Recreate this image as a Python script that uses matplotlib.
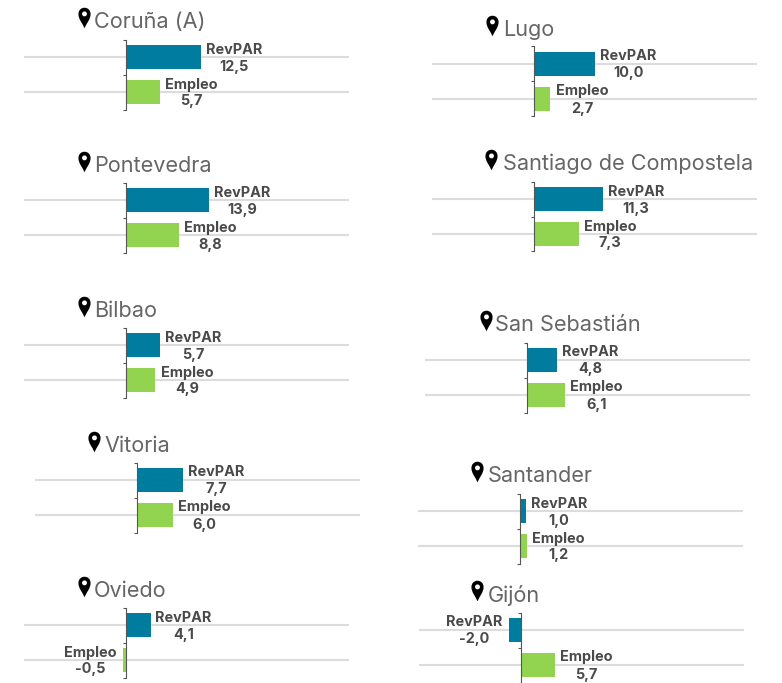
import matplotlib
matplotlib.use('Agg')
import matplotlib.pyplot as plt
from matplotlib.path import Path

# data
cities = ['Coruña (A)', 'Pontevedra', 'Bilbao', 'Vitoria', 'Oviedo',
          'Lugo', 'Santiago de Compostela', 'San Sebastián', 'Santander', 'Gijón']
revpar = [12.5, 13.9, 5.7, 7.7, 4.1, 10.0, 11.3, 4.8, 1.0, -2.0]
empleo = [5.7, 8.8, 4.9, 6.0, -0.5, 2.7, 7.3, 6.1, 1.2, 5.7]
series_names = ['RevPAR', 'Empleo']

# layout in pixels of the 782x683 picture
zero_x = [126, 126, 126, 137, 126, 534, 534, 527, 520, 521]
first_line_y = [57, 200, 345, 480, 625, 64, 199, 360, 511, 630]
title_x = [94, 94, 94, 104, 94, 503, 503, 495, 488, 488]
title_y = [22, 166, 311, 446, 591, 30, 164, 325, 476, 596]
pin_x = [84, 84, 84, 94, 84, 492, 491, 486, 477, 477]
pin_y = [18, 162, 307, 442, 587, 26, 160, 321, 472, 591]
px_per_unit = [6.0, 6.0, 6.0, 6.0, 6.0, 6.1, 6.1, 6.2, 6.0, 6.0]
W, H = 782, 683

blue = '#007d9e'
green = '#92d350'
txt = '#4a4a4a'
plt.rcParams['font.family'] = ['Inter', 'DejaVu Sans']


def pin_marker():
    # teardrop with a hole
    verts = [(0, -1), (-0.2, -0.5), (-0.62, -0.1), (-0.62, 0.45),
             (-0.62, 0.85), (-0.35, 1.1), (0, 1.1),
             (0.35, 1.1), (0.62, 0.85), (0.62, 0.45),
             (0.62, -0.1), (0.2, -0.5), (0, -1), (0, -1)]
    codes = [Path.MOVETO] + [Path.CURVE4] * 12 + [Path.CLOSEPOLY]
    hole = Path.circle((0, 0.47), 0.25)
    return Path(verts + [tuple(v) for v in hole.vertices], codes + list(hole.codes))


fig = plt.figure(figsize=(W / 100, H / 100), dpi=100)

for i, city in enumerate(cities):
    left = zero_x[i] - 102
    right = left + 325
    top = first_line_y[i] - 17.5
    ax = fig.add_axes([left / W, 1 - (top + 70) / H, 325 / W, 70 / H])
    k = px_per_unit[i]
    ax.set_xlim((left - zero_x[i]) / k, (right - zero_x[i]) / k)
    ax.set_ylim(1.5, -0.5)
    ax.patch.set_alpha(0)

    vals = [revpar[i], empleo[i]]
    for y in range(2):
        ax.axhline(y, color='#dcdcdc', lw=1.5, zorder=1)
    ax.barh([0, 1], vals, height=0.66, color=[blue, green], zorder=2)

    for s in ['top', 'right', 'bottom']:
        ax.spines[s].set_visible(False)
    ax.spines['left'].set_position(('data', 0))
    ax.spines['left'].set_color('#555555')
    ax.spines['left'].set_linewidth(0.8)
    ax.spines['left'].set_zorder(3)
    ax.set_xticks([])
    ax.set_yticks([-0.5, 0.5, 1.5])
    ax.set_yticklabels([])
    ax.tick_params(axis='y', length=2, width=0.8, color='#555555')

    for y, v in enumerate(vals):
        # label sits beside the bar end, value centred underneath
        name_w = 59 if y == 0 else 56
        if v >= 0:
            cx = 3.5 + name_w / 2
        else:
            cx = -5 - name_w / 2
        value = f'{v:.1f}'.replace('.', ',')
        # offset points go upwards
        ax.annotate(series_names[y], (v, y), xytext=(cx * 0.72, 7.5 * 0.72),
                    textcoords='offset points', ha='center', va='center',
                    fontsize=10.4, fontweight='bold', color=txt, zorder=4)
        ax.annotate(value, (v, y), xytext=(cx * 0.72, -9.5 * 0.72),
                    textcoords='offset points', ha='center', va='center',
                    fontsize=10.4, fontweight='bold', color=txt, zorder=4)

# titles and pins go on a full size overlay in pixels
over = fig.add_axes([0, 0, 1, 1])
over.set_xlim(0, W)
over.set_ylim(H, 0)
over.axis('off')
over.patch.set_alpha(0)
for i, city in enumerate(cities):
    over.text(title_x[i], title_y[i], city, fontsize=15.6, color='#666666',
              ha='left', va='center')
over.scatter(pin_x, pin_y, marker=pin_marker(), s=240,
             color='black', linewidths=0)

fig.savefig('out.png', dpi=100)
